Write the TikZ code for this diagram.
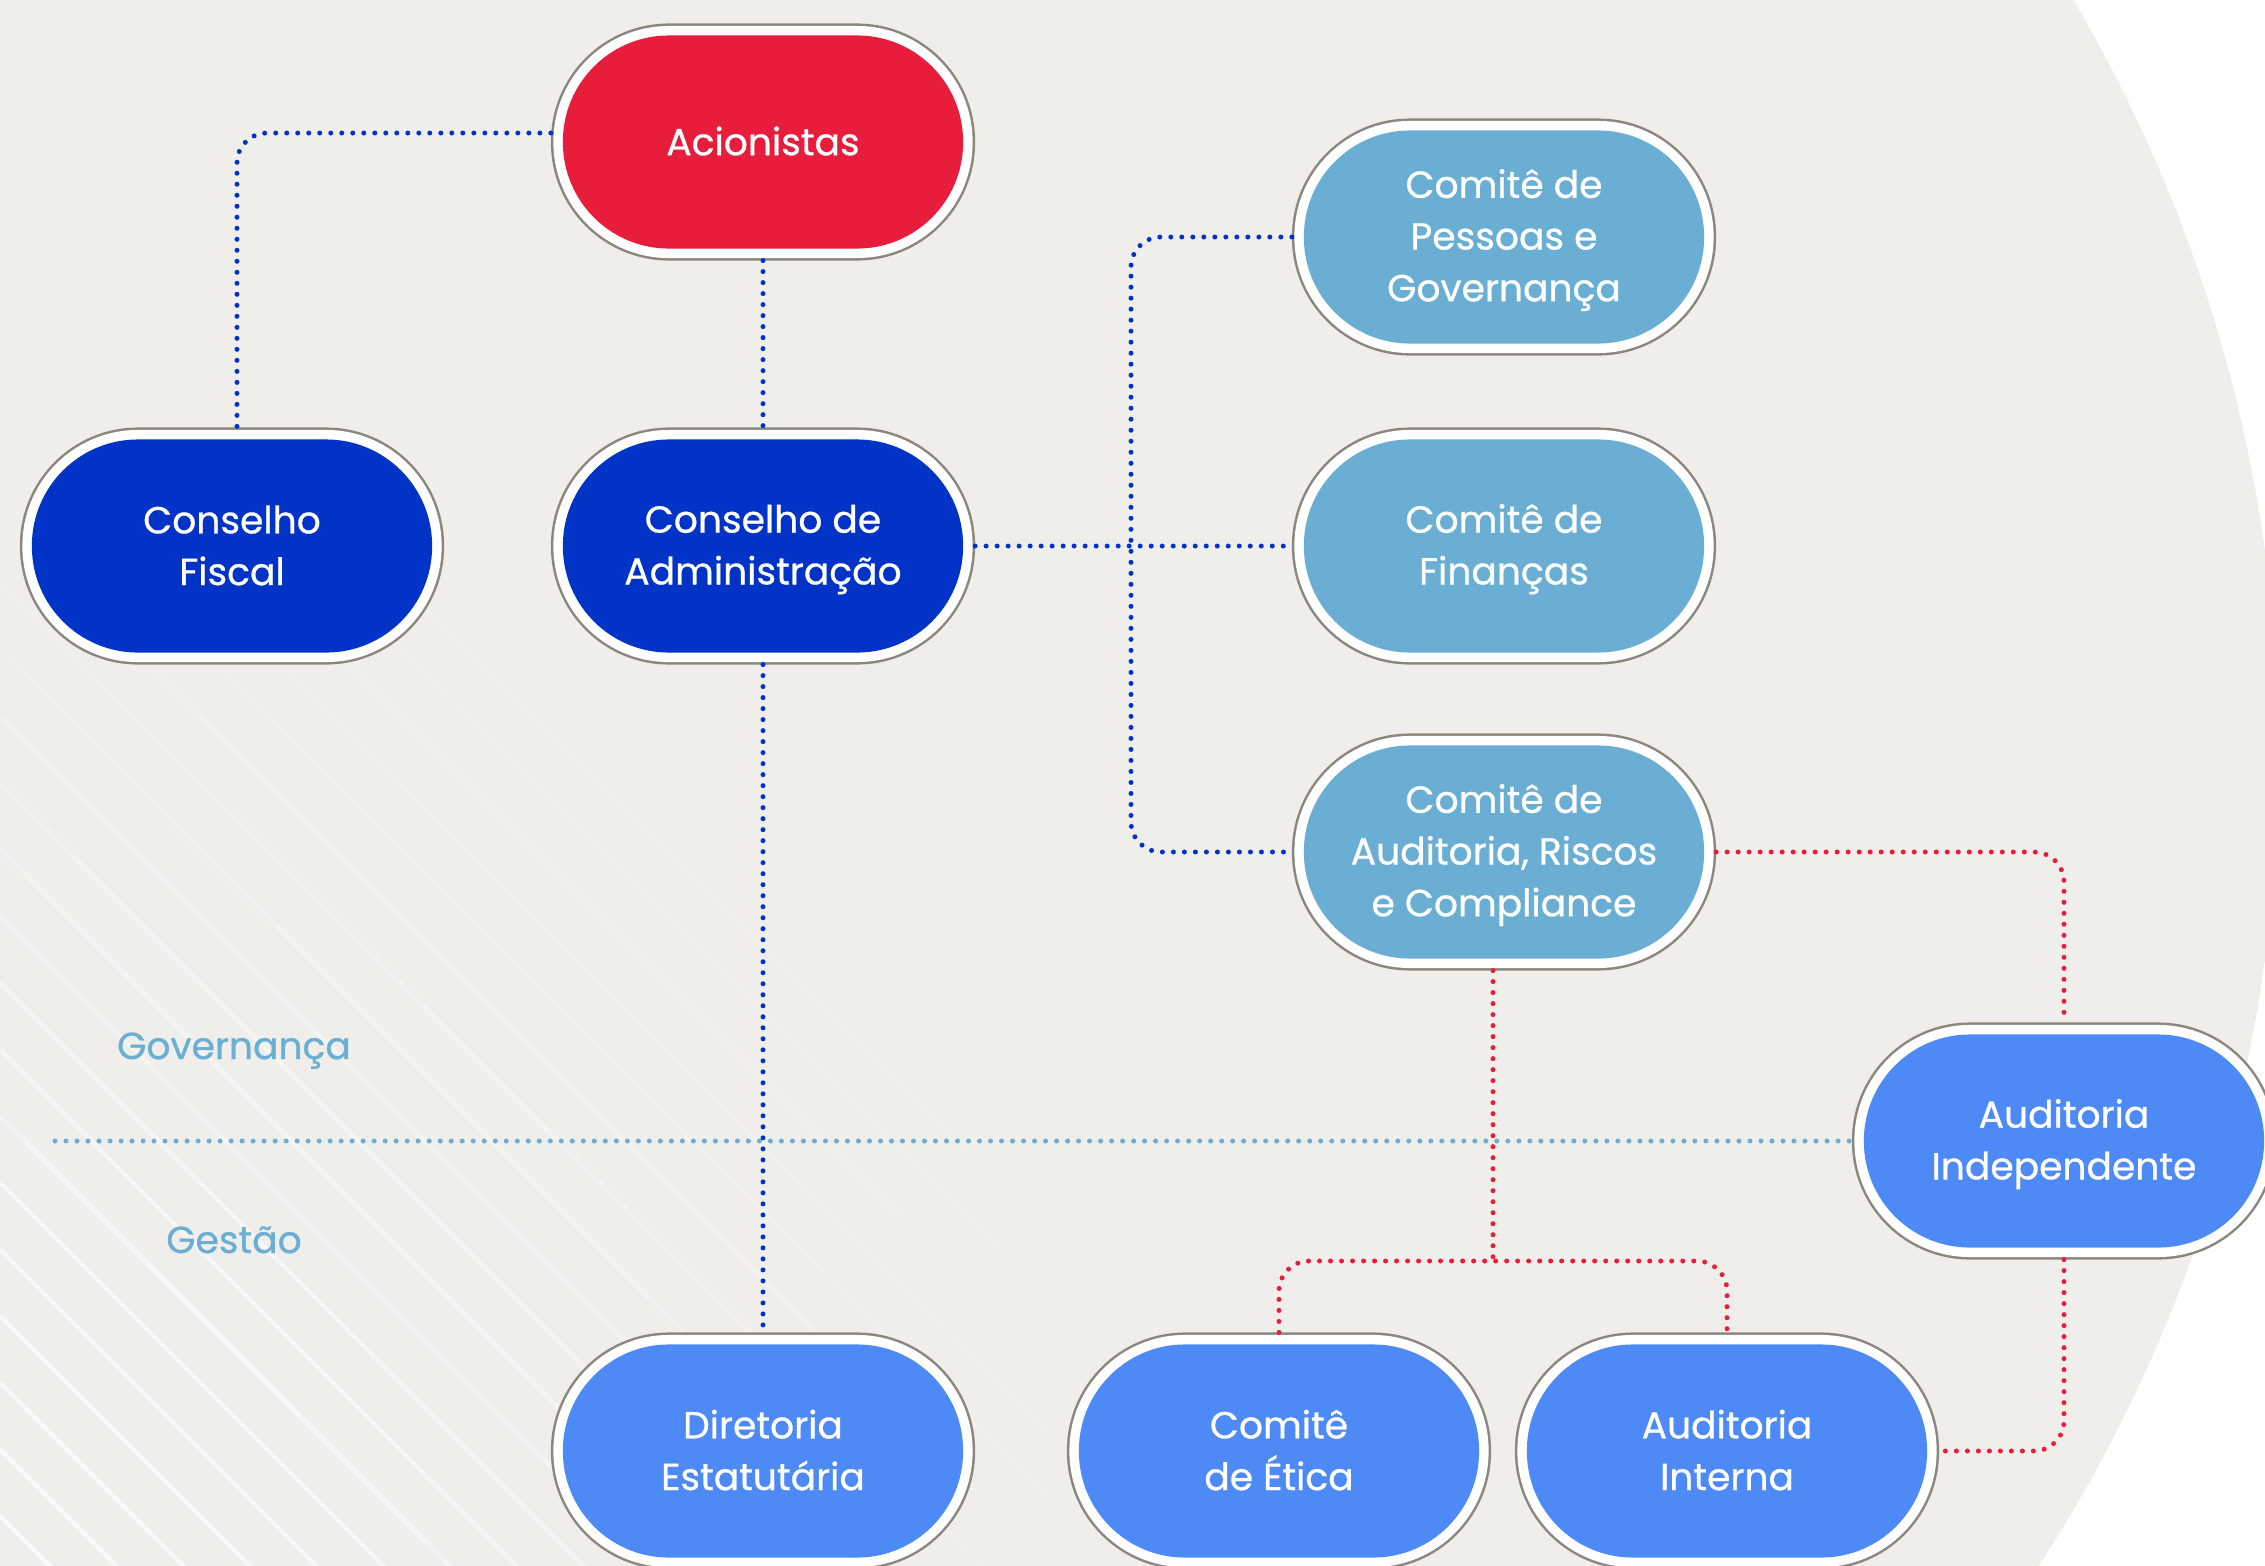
\documentclass[tikz,border=0pt]{standalone}
\usepackage{fontspec}
\setmainfont{Poppins}
\newfontfamily\pillfont{Poppins}[FakeBold=0.7]
\usetikzlibrary{calc}
\definecolor{bggray}{HTML}{EFEEEA}
\definecolor{ringgray}{HTML}{8C877C}
\definecolor{cred}{HTML}{E81C3B}
\definecolor{cdark}{HTML}{0033C6}
\definecolor{clight}{HTML}{6AAFD3}
\definecolor{cmed}{HTML}{4E8AF5}
\newcommand\st{\rule[-2.4pt]{0pt}{12.3pt}}
\tikzset{
  pill/.style={fill=#1, minimum width=4cm, minimum height=2.13cm,
    rounded corners=1.06cm, inner sep=0pt, outer sep=0.12cm, text=white,
    align=center, font=\pillfont\fontsize{10.7pt}{14.7pt}\selectfont,
    preaction={draw=ringgray, line width=0.24cm},
    preaction={draw=white, line width=0.19cm}},
  dotline/.style={draw=#1, line width=0.05cm, line cap=round,
    dash pattern=on 0pt off 0.11cm, rounded corners=0.3cm},
  lab/.style={text=clight, anchor=base, inner sep=0pt,
    font=\pillfont\fontsize{10.7pt}{14.7pt}\selectfont}
}
\begin{document}
\begin{tikzpicture}[x=0.01cm, y=-0.01cm]
\useasboundingbox (0,0) rectangle (2265,1566);
% background
\fill[white] (0,0) rectangle (2265,1566);
\begin{scope}
  \clip (0,0) rectangle (2265,1566);
  \fill[bggray] (791,755) circle (14.87cm);
  % faded diagonal stripes in lower-left
  \foreach \k in {0,...,24} {
    \pgfmathsetmacro\cc{1516-66.67*\k}
    \foreach \xs in {0,25,...,1700} {
      \pgfmathsetmacro\xm{\xs+12.5}
      \pgfmathsetmacro\ym{\xm+\cc}
      \pgfmathsetmacro\dd{veclen(\xm/100,(1566-\ym)/100)}
      \pgfmathsetmacro\op{0.75*(1-\dd/11.5)}
      \ifdim\op pt>0.005pt
        \draw[white, line width=0.045cm, opacity=\op]
          (\xs,\xs+\cc) -- (\xs+25,\xs+25+\cc);
      \fi
    }
  }
\end{scope}

% nodes
\node[pill=cred]   (acion)   at (763,142)  {\st Acionistas};
\node[pill=cdark]  (fiscal)  at (232,546)  {\st Conselho\\\st Fiscal};
\node[pill=cdark]  (adm)     at (763,546)  {\st Conselho de\\\st Administração};
\node[pill=clight] (pes)     at (1504,237) {\st Comitê de\\\st Pessoas e\\\st Governança};
\node[pill=clight] (fin)     at (1504,546) {\st Comitê de\\\st Finanças};
\node[pill=clight] (aud)     at (1504,852) {\st Comitê de\\\st Auditoria, Riscos\\\st e Compliance};
\node[pill=cmed]   (indep)   at (2064,1141) {\st Auditoria\\\st Independente};
\node[pill=cmed]   (dir)     at (763,1451) {\st Diretoria\\\st Estatutária};
\node[pill=cmed]   (etica)   at (1279,1451) {\st Comitê\\\st de Ética};
\node[pill=cmed]   (interna) at (1727,1451) {\st Auditoria\\\st Interna};

% labels
\node[lab] (gov) at (234,1059) {Governança};
\node[lab] (ges) at (234,1253) {Gestão};

% coordinates
\coordinate (sepstart) at (55,1141);
\coordinate (busx) at (1131,0);
\coordinate (split) at (1493,1261);

% separator
\draw[dotline=clight] (sepstart) -- (indep.west);

% blue connectors
\draw[dotline=cdark] ($(acion.west)+(0,-9)$) -| ($(fiscal.north)+(5,0)$);
\draw[dotline=cdark] (acion.south) -- (adm.north);
\draw[dotline=cdark] (adm.south) -- (dir.north);
\draw[dotline=cdark] (adm.east) -- (fin.west);
\draw[dotline=cdark] (pes.west) -| (busx |- aud.west) -- (aud.west);

% red connectors
\draw[dotline=cred] (aud.east) -| (indep.north);
\draw[dotline=cred] (indep.south) |- (interna.east);
\draw[dotline=cred] ($(aud.south)+(-11,0)$) -- (split);
\draw[dotline=cred] (etica.north) |- (split) -| (interna.north);
\end{tikzpicture}
\end{document}
